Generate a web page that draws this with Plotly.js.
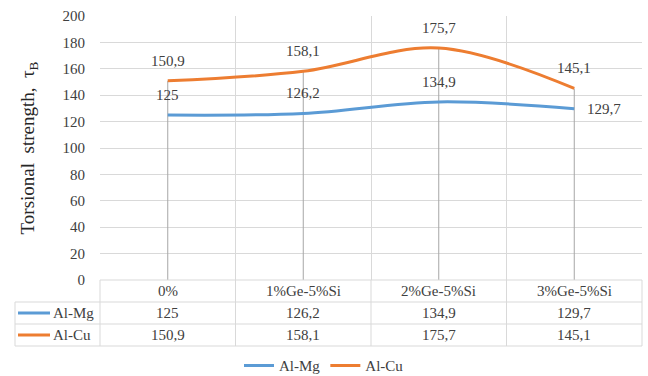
<!DOCTYPE html>
<html>
<head>
<meta charset="utf-8">
<script src="https://cdn.plot.ly/plotly-3.0.1.min.js"></script>
<style>html,body{margin:0;padding:0;background:#fff;}#chart{position:absolute;left:0;top:0;width:648px;height:376px;}
#warm{position:absolute;left:640px;top:2px;font-family:'Liberation Serif';font-size:15px;color:#fff;pointer-events:none;z-index:5;}</style>
</head>
<body>
<div id="warm">.</div>
<div id="chart"></div>
<script>
// ---- data ----
const categories = ['0%', '1%Ge-5%Si', '2%Ge-5%Si', '3%Ge-5%Si'];
const seriesNames = ['Al-Mg', 'Al-Cu'];
const alMg = [125, 126.2, 134.9, 129.7];
const alCu = [150.9, 158.1, 175.7, 145.1];
const yTicks = [0, 20, 40, 60, 80, 100, 120, 140, 160, 180, 200];

// ---- styles ----
const serifFamily = 'Liberation Serif';
const TXT = '#404040';
const GRID = '#d9d9d9';
const seriesColors = ['#5B9BD5', '#ED7D31'];
const seriesValues = [alMg, alCu];
const fmt = v => String(v).replace('.', ',');
const xIdx = categories.map((c, i) => i);

function buildFigure() {
  const dropX = [], dropY = [];
  xIdx.forEach(i => {
    const top = Math.max(...seriesValues.map(s => s[i]));
    dropX.push(i, i, null); dropY.push(top, 0, null);
  });
  const traces = [{
    x: dropX, y: dropY, mode: 'lines', line: {color: '#a6a6a6', width: 1},
    showlegend: false, hoverinfo: 'skip'
  }];
  seriesValues.forEach((vals, k) => {
    traces.push({
      x: xIdx, y: vals, name: seriesNames[k], mode: 'lines',
      line: {color: seriesColors[k], width: 3, shape: 'spline', smoothing: 1}
    });
  });

  const annotations = [];
  seriesValues.forEach((vals, k) => {
    vals.forEach((v, i) => {
      const right = (k === 0 && i === vals.length - 1);
      annotations.push({
        x: i, y: v, xref: 'x', yref: 'y', text: fmt(v), showarrow: false,
        xanchor: right ? 'left' : 'center', yanchor: 'middle',
        xshift: right ? 11 : 0, yshift: right ? 0 : 20
      });
    });
  });

  const rowH = 22 / 264;
  const headerY = -rowH / 2;
  const rowY = k => -rowH * (k + 1.5);
  categories.forEach((c, i) => {
    annotations.push({x: i, y: headerY, xref: 'x', yref: 'paper', text: c, showarrow: false,
      xanchor: 'center', yanchor: 'middle'});
    seriesValues.forEach((vals, k) => {
      annotations.push({x: i, y: rowY(k), xref: 'x', yref: 'paper', text: fmt(vals[i]), showarrow: false,
        xanchor: 'center', yanchor: 'middle'});
    });
  });
  const leftEdge = -85 / 542;
  const shapes = [];
  const tableBottom = -rowH * 3;
  shapes.push({type: 'line', xref: 'paper', yref: 'paper', x0: 0, x1: 1, y0: 0, y1: 0, line: {color: GRID, width: 1}});
  for (let r = 1; r <= 3; r++) {
    shapes.push({type: 'line', xref: 'paper', yref: 'paper', x0: leftEdge, x1: 1, y0: -rowH * r, y1: -rowH * r, line: {color: GRID, width: 1}});
  }
  shapes.push({type: 'line', xref: 'paper', yref: 'paper', x0: leftEdge, x1: leftEdge, y0: -rowH, y1: tableBottom, line: {color: GRID, width: 1}});
  for (let i = 0; i <= categories.length; i++) {
    const px = i / categories.length;
    shapes.push({type: 'line', xref: 'paper', yref: 'paper', x0: px, x1: px, y0: 0, y1: tableBottom, line: {color: GRID, width: 1}});
  }
  seriesNames.forEach((n, k) => {
    shapes.push({type: 'line', xref: 'paper', yref: 'paper', x0: -82 / 542, x1: -50 / 542, y0: rowY(k), y1: rowY(k),
      line: {color: seriesColors[k], width: 3}});
    annotations.push({x: -49 / 542, y: rowY(k), xref: 'paper', yref: 'paper', text: n, showarrow: false,
      xanchor: 'left', yanchor: 'middle'});
  });

  const layout = {
    width: 648, height: 376,
    margin: {l: 100, r: 6, t: 16, b: 96},
    paper_bgcolor: '#fff', plot_bgcolor: '#fff',
    font: {family: serifFamily, size: 15, color: TXT},
    showlegend: true,
    legend: {orientation: 'h', xref: 'container', yref: 'container', x: 0.5, y: 0.027,
      xanchor: 'center', yanchor: 'middle'},
    xaxis: {range: [-0.5, categories.length - 0.5], tickvals: categories.map((c, i) => i - 0.5).concat([categories.length - 0.5]),
      showticklabels: false, showgrid: true, gridcolor: GRID, gridwidth: 1, zeroline: false, showline: false, ticks: '', fixedrange: true},
    yaxis: {range: [0, 200], tickvals: yTicks, showgrid: true, gridcolor: GRID, gridwidth: 1, zeroline: false,
      showline: false, ticks: 'outside', ticklen: 11, tickcolor: 'rgba(0,0,0,0)',
      title: {text: 'Torsional  strength,  τ<sub>B</sub>', standoff: 22, font: {size: 19, color: '#262626'}}},
    shapes: shapes,
    annotations: annotations
  };
  return {traces, layout};
}

function draw() {
  const f = buildFigure();
  return Plotly.newPlot('chart', f.traces, f.layout, {staticPlot: true, displayModeBar: false});
}

draw();
const redraw = () => requestAnimationFrame(() => setTimeout(draw, 30));
if (document.fonts && document.fonts.load) {
  document.fonts.load('15px "Liberation Serif"').then(redraw, redraw);
} else {
  redraw();
}
</script>
</body>
</html>
